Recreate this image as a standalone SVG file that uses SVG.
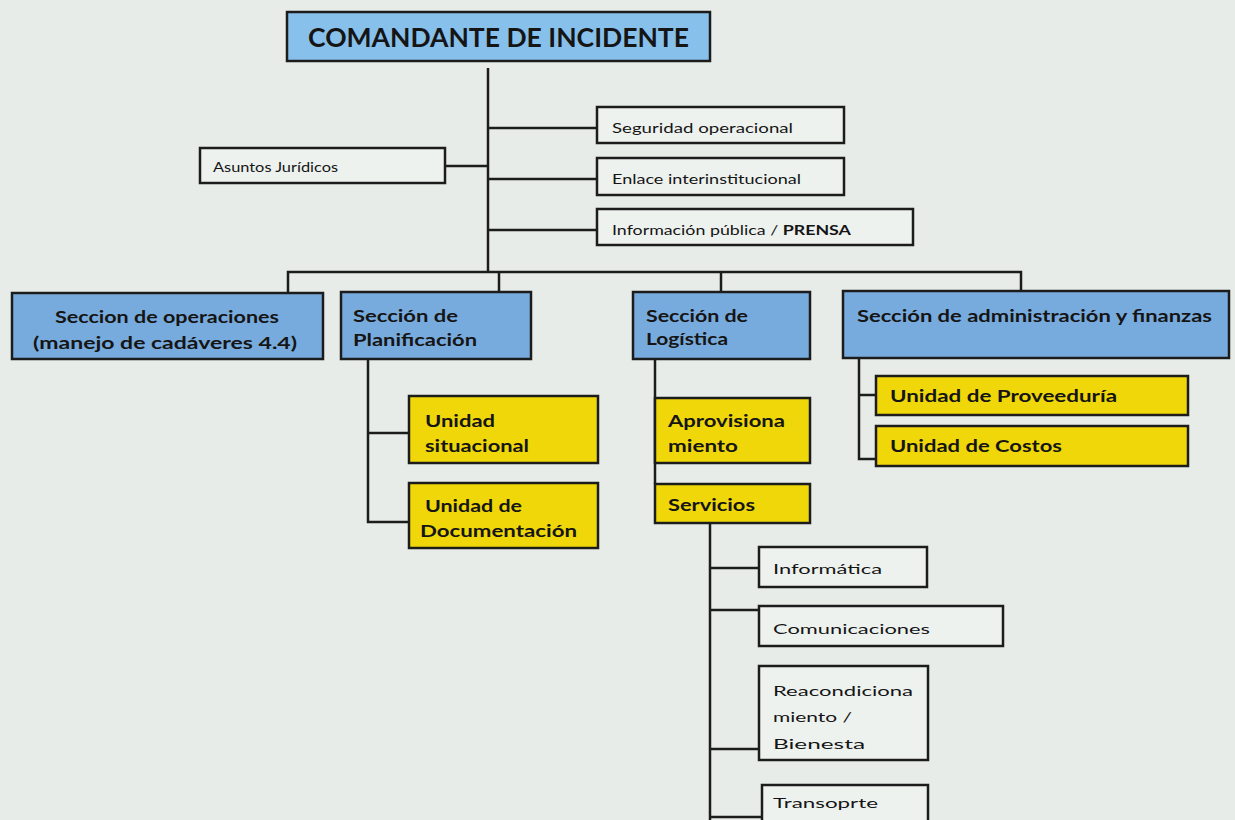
<svg xmlns="http://www.w3.org/2000/svg" width="1235" height="820" viewBox="0 0 1235 820">
<style>
.bg{fill:#e7ece9}
.box{stroke:#1c1c1c;stroke-width:2.5}
.top{fill:#88c0ec}
.sec{fill:#78abdd}
.unit{fill:#f0d709}
.plain{fill:#eef2ef}
.conn{stroke:#1c1c1c;stroke-width:2.5;fill:none}
text{font-family:Lato,"Open Sans","Liberation Sans",sans-serif;fill:#151515}
.b{font-weight:bold;font-size:17px}
.s{font-size:14px}
.t{font-weight:bold;font-size:26px}
</style>
<rect class="bg" x="0" y="0" width="1235" height="820"/>
<g id="connectors">
<path class="conn" d="M488 68V272"/>
<path class="conn" d="M488 128H597M488 179H597M488 230H597M445 166H488"/>
<path class="conn" d="M288 293V272H1021V292M499 272V292M721 272V292"/>
<path class="conn" d="M368 359V522H409M368 433H409"/>
<path class="conn" d="M655 359V484"/>
<path class="conn" d="M859 358V459H876M859 395H876"/>
<path class="conn" d="M710 523V820M710 568H759M710 610H759M710 749H759M710 817H762"/>
</g>
<g id="comandante"><rect class="box top" x="287" y="12" width="423" height="49"/><text class="t" x="308" y="47" textLength="381" lengthAdjust="spacingAndGlyphs">COMANDANTE DE INCIDENTE</text></g>
<g id="seguridad"><rect class="box plain" x="597" y="107" width="247" height="36"/><text class="s" x="612" y="133" textLength="181" lengthAdjust="spacingAndGlyphs">Seguridad operacional</text></g>
<g id="enlace"><rect class="box plain" x="597" y="158" width="247" height="37"/><text class="s" x="612" y="184" textLength="189" lengthAdjust="spacingAndGlyphs">Enlace interinstitucional</text></g>
<g id="informacion"><rect class="box plain" x="597" y="209" width="316" height="36"/><text class="s" x="612" y="235" textLength="239" lengthAdjust="spacingAndGlyphs">Información pública / <tspan font-weight="bold">PRENSA</tspan></text></g>
<g id="asuntos"><rect class="box plain" x="200" y="148" width="245" height="35"/><text class="s" x="213" y="172" textLength="125" lengthAdjust="spacingAndGlyphs">Asuntos Jurídicos</text></g>
<g id="operaciones"><rect class="box sec" x="12" y="293" width="311" height="66"/><text class="b" x="55" y="323" textLength="224" lengthAdjust="spacingAndGlyphs">Seccion de operaciones</text><text class="b" x="33" y="349" textLength="264" lengthAdjust="spacingAndGlyphs">(manejo de cadáveres 4.4)</text></g>
<g id="planificacion"><rect class="box sec" x="341" y="292" width="190" height="67"/><text class="b" x="353" y="322" textLength="105" lengthAdjust="spacingAndGlyphs">Sección de</text><text class="b" x="353" y="346" textLength="124" lengthAdjust="spacingAndGlyphs">Planificación</text></g>
<g id="logistica"><rect class="box sec" x="633" y="292" width="177" height="67"/><text class="b" x="646" y="322" textLength="102" lengthAdjust="spacingAndGlyphs">Sección de</text><text class="b" x="646" y="345" textLength="82" lengthAdjust="spacingAndGlyphs">Logística</text></g>
<g id="administracion"><rect class="box sec" x="843" y="291" width="386" height="67"/><text class="b" x="857" y="322" textLength="355" lengthAdjust="spacingAndGlyphs">Sección de administración y finanzas</text></g>
<g id="situacional"><rect class="box unit" x="409" y="396" width="189" height="67"/><text class="b" x="425" y="427" textLength="70" lengthAdjust="spacingAndGlyphs">Unidad</text><text class="b" x="425" y="452" textLength="104" lengthAdjust="spacingAndGlyphs">situacional</text></g>
<g id="documentacion"><rect class="box unit" x="409" y="483" width="189" height="65"/><text class="b" x="425" y="512" textLength="97" lengthAdjust="spacingAndGlyphs">Unidad de</text><text class="b" x="420" y="537" textLength="157" lengthAdjust="spacingAndGlyphs">Documentación</text></g>
<g id="aprovisionamiento"><rect class="box unit" x="655" y="398" width="155" height="65"/><text class="b" x="668" y="427" textLength="117" lengthAdjust="spacingAndGlyphs">Aprovisiona</text><text class="b" x="668" y="452" textLength="70" lengthAdjust="spacingAndGlyphs">miento</text></g>
<g id="servicios"><rect class="box unit" x="655" y="484" width="155" height="39"/><text class="b" x="668" y="511" textLength="87" lengthAdjust="spacingAndGlyphs">Servicios</text></g>
<g id="proveeduria"><rect class="box unit" x="876" y="376" width="312" height="39"/><text class="b" x="890" y="402" textLength="227" lengthAdjust="spacingAndGlyphs">Unidad de Proveeduría</text></g>
<g id="costos"><rect class="box unit" x="876" y="426" width="312" height="40"/><text class="b" x="890" y="452" textLength="172" lengthAdjust="spacingAndGlyphs">Unidad de Costos</text></g>
<g id="informatica"><rect class="box plain" x="759" y="547" width="168" height="40"/><text class="s" x="773" y="574" textLength="109" lengthAdjust="spacingAndGlyphs">Informática</text></g>
<g id="comunicaciones"><rect class="box plain" x="759" y="606" width="244" height="40"/><text class="s" x="773" y="634" textLength="157" lengthAdjust="spacingAndGlyphs">Comunicaciones</text></g>
<g id="reacondicionamiento"><rect class="box plain" x="759" y="666" width="169" height="94"/><text class="s" x="773" y="696" textLength="140" lengthAdjust="spacingAndGlyphs">Reacondiciona</text><text class="s" x="773" y="722" textLength="79" lengthAdjust="spacingAndGlyphs">miento /</text><text class="s" x="773" y="749" textLength="92" lengthAdjust="spacingAndGlyphs">Bienesta</text></g>
<g id="transporte"><rect class="box plain" x="762" y="785" width="166" height="50"/><text class="s" x="773" y="808" textLength="105" lengthAdjust="spacingAndGlyphs">Transoprte</text></g>
</svg>
